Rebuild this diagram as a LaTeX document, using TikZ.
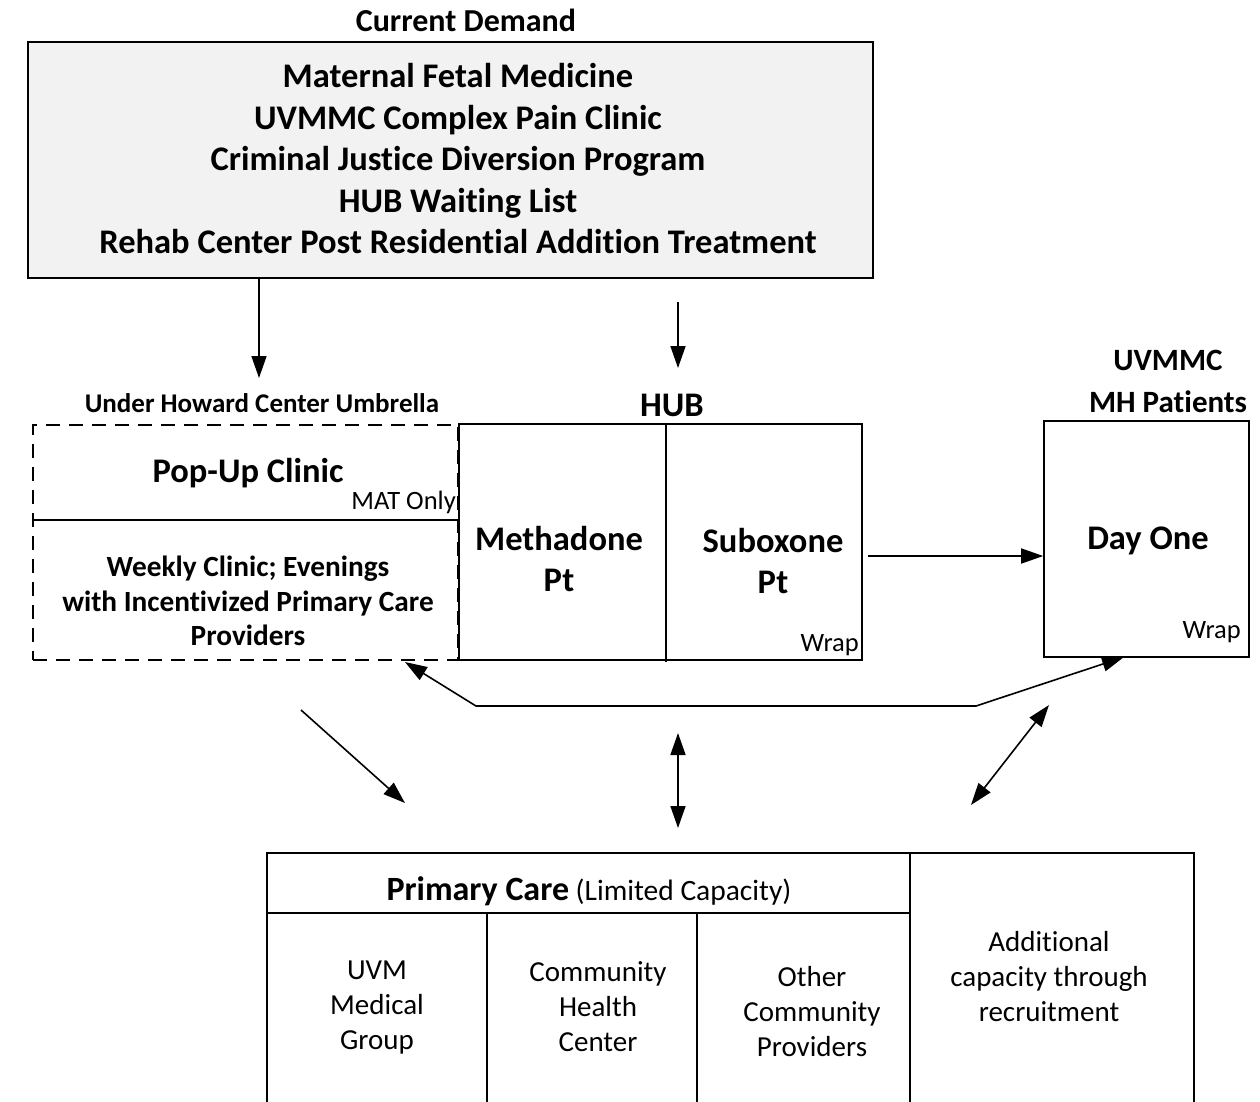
\documentclass[tikz,border=0pt]{standalone}
\usepackage{fontspec}
\setmainfont{Carlito}[Ligatures=CommonOff]
\usetikzlibrary{arrows.meta}
\begin{document}
\begin{tikzpicture}[x=1pt,y=-1pt,
  box/.style={draw, line width=1.6pt, inner sep=0pt},
  conn/.style={line width=1.6pt},
  tip/.style={-{Triangle[length=22pt,width=15pt]}},
  dtip/.style={{Triangle[length=22pt,width=15pt]}-{Triangle[length=22pt,width=15pt]}},
  bigb/.style={font=\fontsize{34.5}{41.5}\selectfont\bfseries, align=center, inner sep=0pt},
  titleb/.style={font=\fontsize{31}{42}\selectfont\bfseries, align=center, inner sep=0pt},
  midb/.style={font=\fontsize{29.3}{34.5}\selectfont\bfseries, align=center, inner sep=0pt},
  small/.style={font=\fontsize{26.5}{30}\selectfont, inner sep=0pt},
  reg/.style={font=\fontsize{29}{35}\selectfont, align=center, inner sep=0pt}]
\useasboundingbox (0,0) rectangle (1260,1101);
\clip (0,0) rectangle (1260,1101);

% Current demand
\node[font=\fontsize{32}{38}\selectfont\bfseries, inner sep=0pt] (tdemand) at (466,20) {Current Demand};
\node[box, fill=black!5, minimum width=845pt, minimum height=236pt] (demand) at (450.5,160) {};
\node[bigb] (demandtxt) at (458,159)
  {Maternal Fetal Medicine\\UVMMC Complex Pain Clinic\\Criminal Justice Diversion Program\\HUB Waiting List\\Rehab Center Post Residential Addition Treatment};

% Umbrella
\node[font=\fontsize{27}{32}\selectfont\bfseries, inner sep=0pt] (tumb) at (262,403) {Under Howard Center Umbrella};
\node[draw, dash pattern=on 14pt off 9pt, line width=1.4pt, minimum width=425pt, minimum height=235pt, inner sep=0pt] (umb) at (245.5,542.5) {};
\draw[conn] (33,520) coordinate (usplitL) -- (458,520) coordinate (usplitR);
\node[bigb] (popup) at (248,473) {Pop-Up Clinic};
\node[small, anchor=east] (mat) at (456,502) {MAT Only};
\node[midb] (weekly) at (248,601) {Weekly Clinic; Evenings\\with Incentivized Primary Care\\Providers};

% HUB
\node[bigb] (thub) at (672,405) {HUB};
\node[box, minimum width=403pt, minimum height=236pt] (hub) at (660.5,542) {};
\draw[conn] (666,424) coordinate (hdivT) -- (666,662) coordinate (hdivB);
\node[bigb] (metha) at (559,559) {Methadone\\Pt};
\node[bigb] (subox) at (773,561) {Suboxone\\Pt};
\node[small, anchor=east] (wrap1) at (859,645) {Wrap};

% Day One
\node[titleb] (tuv) at (1168,381) {UVMMC\\MH Patients};
\node[box, minimum width=205pt, minimum height=236pt] (dayone) at (1146.5,539) {};
\node[bigb] (dayt) at (1148,541) {Day One};
\node[small, anchor=east] (wrap2) at (1241,632) {Wrap};

% Primary care table
\draw[conn] (267,1120) coordinate (pBL) -- (267,853) coordinate (pTL) -- (1194,853) coordinate (pTR) -- (1194,1120);
\draw[conn] (910,853) -- (910,1120);
\draw[conn] (267,913) -- (910,913);
\draw[conn] (487,913) -- (487,1120);
\draw[conn] (697,913) -- (697,1120);
\node[reg] (pc) at (589,891) {{\fontsize{34}{35}\selectfont\bfseries Primary Care} {\fontsize{29.5}{35}\selectfont(Limited Capacity)}};
\node[reg] (uvm) at (377,1008) {UVM\\Medical\\Group};
\node[reg] (chc) at (598,1007) {Community\\Health\\Center};
\node[reg] (other) at (812,1012) {Other\\Community\\Providers};
\node[reg] (addl) at (1049,977) {Additional\\capacity through\\recruitment};

% Connectors
\coordinate (a1e) at (259,378);
\draw[conn,tip] (demand.south -| a1e) -- (a1e);
\coordinate (a2s) at (678,302);
\coordinate (a2e) at (678,368);
\draw[conn,tip] (a2s) -- (a2e);
\coordinate (a3s) at (868,556);
\draw[conn,tip] (a3s) -- (dayone.west |- a3s);
\coordinate (b1) at (476,706);
\coordinate (b2) at (976,706);
\coordinate (b0) at (405,662);
\coordinate (b3) at (1124,657);
\draw[conn,dtip] (b0) -- (b1) -- (b2) -- (b3);
\coordinate (c1s) at (301,710);
\coordinate (c1e) at (405,803);
\draw[conn,tip] (c1s) -- (c1e);
\coordinate (c2s) at (678,733);
\coordinate (c2e) at (678,828);
\draw[conn,dtip] (c2s) -- (c2e);
\coordinate (c3s) at (1049,705);
\coordinate (c3e) at (971,805);
\draw[conn,dtip] (c3s) -- (c3e);
\end{tikzpicture}
\end{document}
